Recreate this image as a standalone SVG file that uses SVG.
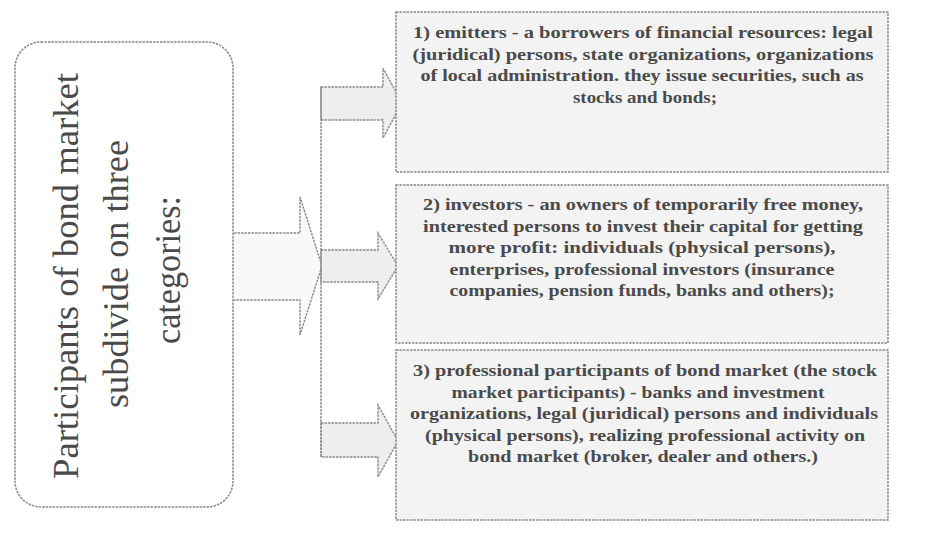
<svg xmlns="http://www.w3.org/2000/svg" width="928" height="533" viewBox="0 0 928 533">
<style>
.box{fill:#f3f3f3;stroke:#8a8a8a;stroke-width:1.5;stroke-dasharray:2.5 1}
.main{fill:#ffffff;stroke:#8a8a8a;stroke-width:1.5;stroke-dasharray:2.5 1}
.arr{fill:#eeeeee;stroke:#8a8a8a;stroke-width:1.4;stroke-dasharray:2.5 1;stroke-linejoin:miter}
.big{fill:#f9f9f9;stroke:#8a8a8a;stroke-width:1.4;stroke-dasharray:2.5 1}
.t{font-family:"Liberation Serif","Times New Roman",serif;font-weight:bold;font-size:16px;fill:#4a4a4a;text-anchor:middle}
.v{font-family:"Liberation Serif","Times New Roman",serif;font-size:36px;fill:#4a4a4a;text-anchor:middle}
</style>
<rect width="928" height="533" fill="#ffffff"/>
<g id="connectors">
<path class="big" d="M234,233 H300 V197 L322,266 L300,335 V300 H234"/>
<path class="arr" d="M321,87 H383 V68 L402,103 L383,138 V120 H321 Z"/>
<path class="arr" d="M321,250 H378 V233 L398,266 L378,299 V282 H321 Z"/>
<path class="arr" d="M321,423 H378 V405 L398,441 L378,477 V457 H321 Z"/>
<path fill="none" stroke="#8a8a8a" stroke-width="1.5" stroke-dasharray="2.5 1" d="M321,87 V457"/>
</g>
<g id="participants">
<rect class="main" x="15" y="42" width="218" height="465" rx="26" ry="26"/>
<text class="v" transform="translate(78,276) rotate(-90)" textLength="406" lengthAdjust="spacingAndGlyphs">Participants of bond market</text>
<text class="v" transform="translate(128,274) rotate(-90)" textLength="268" lengthAdjust="spacingAndGlyphs">subdivide on three</text>
<text class="v" transform="translate(180,270) rotate(-90)" textLength="148" lengthAdjust="spacingAndGlyphs">categories:</text>
</g>
<g id="emitters">
<rect class="box" x="396" y="12" width="492" height="160"/>
<text class="t" x="643" y="38" textLength="460" lengthAdjust="spacingAndGlyphs">1) emitters - a borrowers of financial resources: legal</text>
<text class="t" x="643" y="59.5" textLength="461" lengthAdjust="spacingAndGlyphs">(juridical) persons, state organizations, organizations</text>
<text class="t" x="642" y="81" textLength="443" lengthAdjust="spacingAndGlyphs">of local administration. they issue securities, such as</text>
<text class="t" x="645" y="102.5" textLength="144" lengthAdjust="spacingAndGlyphs">stocks and bonds;</text>
</g>
<g id="investors">
<rect class="box" x="396" y="185" width="492" height="158"/>
<text class="t" x="643" y="210" textLength="440" lengthAdjust="spacingAndGlyphs">2) investors - an owners of temporarily free money,</text>
<text class="t" x="643" y="231.5" textLength="440" lengthAdjust="spacingAndGlyphs">interested persons to invest their capital for getting</text>
<text class="t" x="642" y="253" textLength="387" lengthAdjust="spacingAndGlyphs">more profit: individuals (physical persons),</text>
<text class="t" x="642" y="274.5" textLength="385" lengthAdjust="spacingAndGlyphs">enterprises, professional investors (insurance</text>
<text class="t" x="642" y="296" textLength="385" lengthAdjust="spacingAndGlyphs">companies, pension funds, banks and others);</text>
</g>
<g id="professionals">
<rect class="box" x="396" y="350" width="492" height="170"/>
<text class="t" x="645" y="376" textLength="464" lengthAdjust="spacingAndGlyphs">3) professional participants of bond market (the stock</text>
<text class="t" x="638" y="397.5" textLength="373" lengthAdjust="spacingAndGlyphs">market participants) - banks and investment</text>
<text class="t" x="644" y="419" textLength="468" lengthAdjust="spacingAndGlyphs">organizations, legal (juridical) persons and individuals</text>
<text class="t" x="645" y="440.5" textLength="440" lengthAdjust="spacingAndGlyphs">(physical persons), realizing professional activity on</text>
<text class="t" x="643" y="462" textLength="350" lengthAdjust="spacingAndGlyphs">bond market (broker, dealer and others.)</text>
</g>
</svg>
